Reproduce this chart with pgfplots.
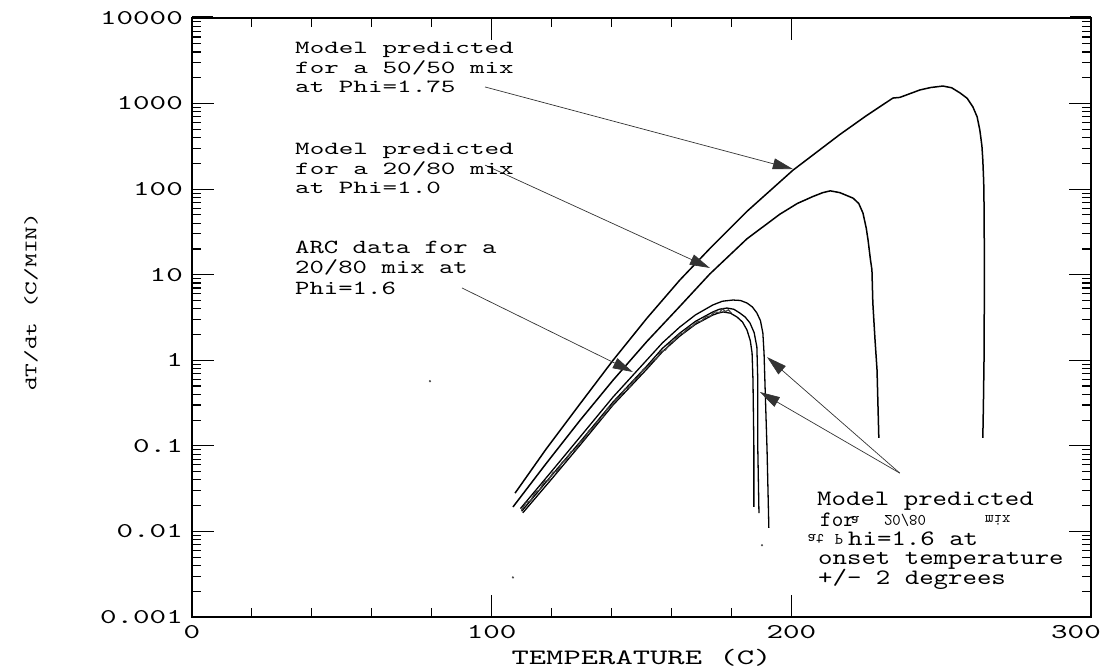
\documentclass[border=0pt]{standalone}
\usepackage{fontspec}
\usepackage{graphicx}
\usepackage{pgfplots}
\pgfplotsset{compat=1.18}
\usetikzlibrary{arrows.meta}
\newfontfamily\wideA[FakeStretch=1.5]{lmmono10-regular.otf}
\newfontfamily\wideB[FakeStretch=1.37]{lmmono10-regular.otf}
\newfontfamily\wideC[FakeStretch=1.25]{lmmono10-regular.otf}
\newfontfamily\plainlm{lmmono10-regular.otf}
\newcommand\ticklbl{\wideA\fontsize{21}{21}\selectfont}
\newcommand\notefont{\wideA\fontsize{18.5}{18.5}\selectfont}
\newcommand\arcfont{\wideB\fontsize{20}{20}\selectfont}
\newcommand\bigfont{\wideC\fontsize{22}{22}\selectfont}
\newcommand\forfont{\plainlm\fontsize{22}{22}\selectfont}
\newcommand\flipfont{\plainlm\fontsize{16}{16}\selectfont}

\begin{document}
\begin{tikzpicture}
\begin{axis}[
  scale only axis, width=899pt, height=599pt,
  xmin=0, xmax=300, ymin=0.001, ymax=10000, ymode=log,
  axis line style={line width=1.6pt},
  xtick={0,100,200,300},
  xticklabels={0,100,200,{\makebox[0pt]{300\hspace{30pt}}}},
  minor xtick={20,40,60,80,120,140,160,180},
  ytick={0.001,0.01,0.1,1,10,100,1000,10000},
  yticklabels={0.001,0.01,0.1,1,10,100,1000,10000},
  tick align=inside, major tick length=22pt, minor tick length=9pt,
  every tick/.style={black, line width=1.1pt},
  ticklabel style={font=\ticklbl},
  yticklabel style={inner sep=0pt, xshift=-9pt},
  xticklabel style={inner sep=0pt, yshift=-8pt},
  xlabel={TEMPERATURE (C)}, ylabel={dT/dt (C/MIN)},
  xlabel style={font=\wideA\fontsize{22}{22}\selectfont, inner sep=0pt, yshift=-11pt},
  ylabel style={font=\wideA\fontsize{17.4}{17.4}\selectfont, inner sep=0pt,
    at={(axis description cs:-0.179,0.526)}, anchor=center},
  clip=false,
]
% 50/50 mix, Phi = 1.75
\addplot[black, line width=1.5pt] coordinates {
 (107.8,0.028) (118,0.090) (129.5,0.31) (140.5,1.0) (151.8,3.1)
 (162.8,8.67) (172.8,20.2) (185.2,55) (200.5,166) (216.2,435)
 (225,720) (233.9,1160) (236.2,1180) (242.9,1442) (246.5,1540)
 (250.6,1603) (253.5,1530) (256.3,1331) (258.7,1150) (260.6,912)
 (262,700) (262.9,491) (263.6,320) (263.9,219) (264.2,120)
 (264.3,69) (264.4,20) (264.4,5.0) (264.3,1.0) (264.1,0.3) (263.9,0.124)
};
% 20/80 mix, Phi = 1.0
\addplot[black, line width=1.5pt] coordinates {
 (107.1,0.0193) (118,0.061) (129.5,0.199) (140.5,0.585) (151.8,1.66)
 (162.8,4.27) (172.8,10.2) (185.2,26.3) (196.2,51) (202,68)
 (207.2,82) (210.5,91) (213,95.5) (216.2,91) (220.6,78.5)
 (222.5,68) (223.9,52.6) (225,35) (225.6,25.5) (226.4,15)
 (226.9,11.4) (227.2,4.67) (227.9,1.8) (228.6,0.77) (229.2,0.124)
};
% 20/80 mix, Phi = 1.6, onset temperature +2
\addplot[black, line width=1.3pt] coordinates {
 (109.6,0.0185) (119.5,0.048) (129.5,0.127) (140.5,0.372) (151.8,1.01)
 (157,1.60) (162.8,2.45) (168,3.39) (173.8,4.43) (177,4.9) (180.5,5.06) (183,5.0)
 (185.2,4.67) (187,4.2) (188.5,3.57) (189.7,2.9) (190.5,2.08)
 (190.9,1.2) (191.2,0.54) (191.9,0.089) (192.5,0.011)
};
% 20/80 mix, Phi = 1.6, onset temperature
\addplot[black, line width=1.3pt] coordinates {
 (110.0,0.0172) (119.5,0.043) (129.5,0.111) (140.5,0.325) (151.8,0.857)
 (157,1.38) (162.8,2.08) (168,2.85) (173.8,3.67) (176,3.95) (178.5,4.08) (180.8,3.95)
 (182.8,3.57) (184.6,3.2) (186.2,2.73) (187.6,2.1) (188.5,1.43)
 (188.8,0.59) (188.8,0.097) (189.2,0.0164)
};
% 20/80 mix, Phi = 1.6, onset temperature -2
\addplot[black, line width=1.3pt] coordinates {
 (110.4,0.0165) (119.5,0.039) (129.5,0.102) (140.5,0.30) (151.8,0.79)
 (157,1.26) (162.8,1.92) (168,2.63) (173.8,3.38) (175.5,3.55) (177.2,3.67) (179.7,3.55)
 (181.9,3.2) (183.7,2.8) (185.2,2.26) (186.3,1.7) (186.9,1.22)
 (187.2,0.59) (187.5,0.097) (187.5,0.0193)
};
% ARC measurements, 20/80 mix, Phi = 1.6
\addplot[black!75, line width=1.2pt] coordinates {
 (110.0,0.0178) (111.5,0.0218) (113.0,0.0228) (114.5,0.0285) (116.0,0.0305)
 (117.5,0.0382) (119.0,0.0399) (120.5,0.0489) (122.0,0.0511) (123.5,0.0640)
 (125.0,0.0700) (126.5,0.0857) (128.0,0.0895) (129.5,0.110) (131.0,0.121)
 (132.5,0.151) (134.0,0.163) (135.5,0.197) (137.0,0.213) (138.5,0.270)
 (140.0,0.292) (141.5,0.350) (143.0,0.380) (144.5,0.463) (146.0,0.481)
 (147.5,0.586) (149.0,0.637) (150.5,0.776) (152.0,0.822) (153.5,0.973)
 (155.0,1.047) (156.5,1.26) (158.0,1.32) (159.5,1.58) (161.0,1.70)
 (162.5,2.01) (164.0,2.08) (165.5,2.37) (167.0,2.50) (168.5,2.80)
 (170.0,2.88) (171.5,3.22) (173.0,3.30) (174.5,3.68) (176.0,3.60)
 (177.0,4.00) (178.0,3.70) (179.0,3.89) (180.0,3.55)
};
% stray specks
\addplot[only marks, mark=*, mark size=0.9pt, black!70] coordinates {
 (79.4,0.57) (190.2,0.0069) (107.1,0.0029)
};
% pointer arrows
\draw[-{Triangle[length=20pt,width=11pt]}, line width=0.7pt, black!80]
  (axis cs:97.8,1563) -- (axis cs:200.5,172);
\draw[-{Triangle[length=20pt,width=11pt]}, line width=0.7pt, black!80]
  (axis cs:97.8,191) -- (axis cs:172.8,12.0);
\draw[-{Triangle[length=20pt,width=11pt]}, line width=0.7pt, black!80]
  (axis cs:90.1,7.0) -- (axis cs:147.1,0.73);
\draw[-{Triangle[length=20pt,width=11pt]}, line width=0.7pt, black!80]
  (axis cs:236.2,0.048) -- (axis cs:191.9,1.09);
\draw[-{Triangle[length=20pt,width=11pt]}, line width=0.7pt, black!80]
  (axis cs:236.2,0.048) -- (axis cs:189.5,0.426);
% heavier frame corners
\draw[line width=3pt] (axis cs:0,10000) -- (axis cs:7,10000);
\draw[line width=3pt] (axis cs:293,10000) -- (axis cs:300,10000);
\end{axis}
% overlay axis carrying the remaining top minor ticks
\begin{axis}[
  scale only axis, width=899pt, height=599pt,
  xmin=0, xmax=300, ymin=0.001, ymax=10000, ymode=log,
  axis line style={draw=none},
  xtick=\empty, ytick=\empty,
  minor xtick={220,240,260,280}, xtick pos=right,
  tick align=inside, minor tick length=9pt,
  every tick/.style={black, line width=1.1pt},
]
\end{axis}
% annotations
\begin{scope}[every node/.style={inner sep=0pt, anchor=base west}]
\node[font=\notefont] at (103pt,563pt) {Model predicted};
\node[font=\notefont] at (103pt,543pt) {for a 50/50 mix};
\node[font=\notefont] at (103pt,524pt) {at Phi=1.75};
\node[font=\notefont] at (103pt,462pt) {Model predicted};
\node[font=\notefont] at (103pt,442pt) {for a 20/80 mix};
\node[font=\notefont] at (103pt,423pt) {at Phi=1.0};
\node[font=\arcfont] at (103pt,363pt) {ARC data for a};
\node[font=\arcfont] at (103pt,343pt) {20/80 mix at};
\node[font=\arcfont] at (103pt,322pt) {Phi=1.6};
\node[font=\bigfont] at (625pt,111pt) {Model predicted};
\node[font=\forfont] at (628pt,90pt) {for};
\node[font=\flipfont, anchor=center] at (663pt,97pt) {\scalebox{1}[-1]{a}};
\node[font=\flipfont, anchor=center] at (713pt,97pt) {\scalebox{1}[-1]{20/80}};
\node[font=\flipfont, anchor=center] at (806pt,97pt) {\scalebox{1}[-1]{mix}};
\node[font=\flipfont, anchor=center] at (624pt,78pt) {\scalebox{1}[-1]{at}};
\node[font=\flipfont, anchor=center] at (647pt,78pt) {\scalebox{1}[-1]{P}};
\node[font=\bigfont] at (656pt,71pt) {hi=1.6 at};
\node[font=\bigfont] at (626pt,52pt) {onset temperature};
\node[font=\bigfont] at (626pt,32pt) {+/- 2 degrees};
\end{scope}
\pgfresetboundingbox
\path (-192pt,-54pt) rectangle (920pt,617pt);
\end{tikzpicture}
\end{document}
